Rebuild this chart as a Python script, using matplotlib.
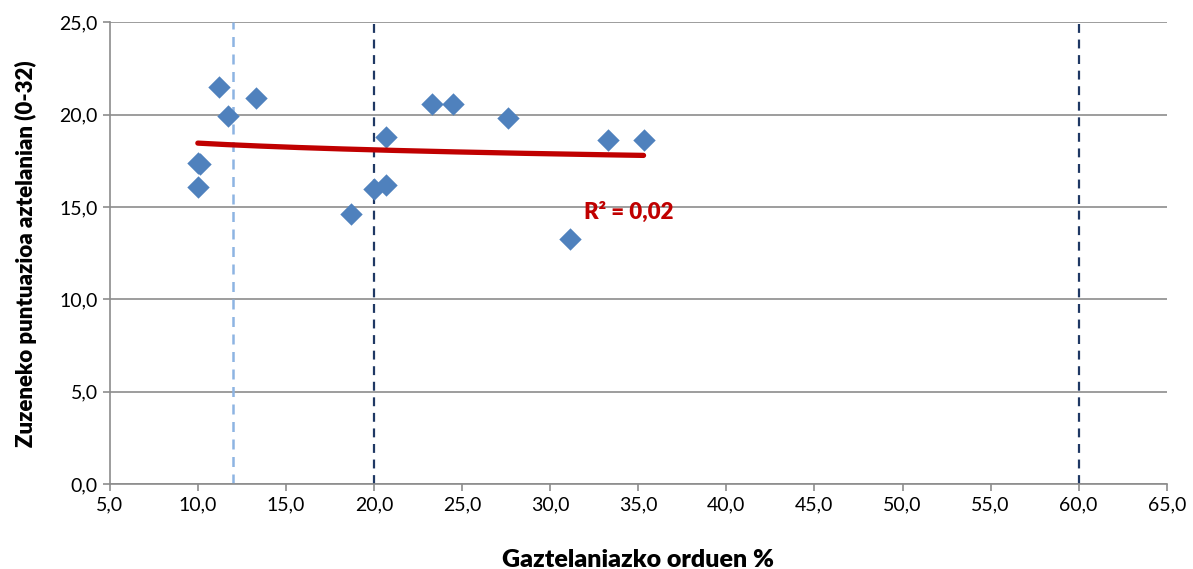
import matplotlib.pyplot as plt
import numpy as np

plt.rcParams['font.family'] = ['Lato', 'DejaVu Sans']

# Datuak
gaztelania = [11.2, 13.3, 11.7, 10.0, 10.1, 10.0, 18.7, 20.0, 20.7, 20.7, 23.3, 24.5, 27.6, 31.1, 33.3, 35.3]
puntuazioa = [21.5, 20.9, 19.95, 17.4, 17.3, 16.1, 14.6, 16.0, 16.2, 18.8, 20.6, 20.6, 19.8, 13.25, 18.6, 18.6]
muga_argia = [12.0]
muga_iluna = [20.0, 60.0]
x_ticks = np.arange(5, 66, 5)
y_ticks = np.arange(0, 26, 5)

fig = plt.figure(figsize=(11.93, 5.69), dpi=100)
ax = fig.add_axes([0.092, 0.149, 0.886, 0.812])

for v in y_ticks:
    ax.axhline(v, color='#8c8c8c', lw=1.2, zorder=0)

for v in muga_argia:
    ax.axvline(v, color='#8DB4E2', lw=1.8, ls=(0, (4, 3)), zorder=1)
for v in muga_iluna:
    ax.axvline(v, color='#1F3864', lw=1.6, ls=(0, (4, 3)), zorder=1)

ax.scatter(gaztelania, puntuazioa, marker='D', s=130, color='#4F81BD', zorder=3, linewidths=0)

# Joera-lerro logaritmikoa
x = np.array(gaztelania)
y = np.array(puntuazioa)
a, b = np.polyfit(np.log(x), y, 1)
xs = np.linspace(x.min(), x.max(), 200)
ax.plot(xs, a * np.log(xs) + b, color='#C00000', lw=3.8, solid_capstyle='round', zorder=4)
ax.text(31.9, 14.7, 'R² = 0,02', color='#C00000', fontsize=16, fontweight='heavy', va='center')

ax.set_xlim(5, 65)
ax.set_ylim(0, 25)
ax.set_xticks(x_ticks)
ax.set_yticks(y_ticks)
ax.set_xticklabels([f'{v:.1f}'.replace('.', ',') for v in x_ticks], fontsize=14)
ax.set_yticklabels([f'{v:.1f}'.replace('.', ',') for v in y_ticks], fontsize=14)
ax.tick_params(color='#8c8c8c', length=5, width=1.2)
for s in ['top', 'right']:
    ax.spines[s].set_visible(False)
for s in ['left', 'bottom']:
    ax.spines[s].set_color('#8c8c8c')
    ax.spines[s].set_linewidth(1.2)

ax.set_xlabel('Gaztelaniazko orduen %', fontsize=18, fontweight='heavy', labelpad=26)
ax.set_ylabel('Zuzeneko puntuazioa aztelanian (0-32)', fontsize=16, fontweight='heavy', labelpad=16)

fig.savefig('out.png', dpi=100)
